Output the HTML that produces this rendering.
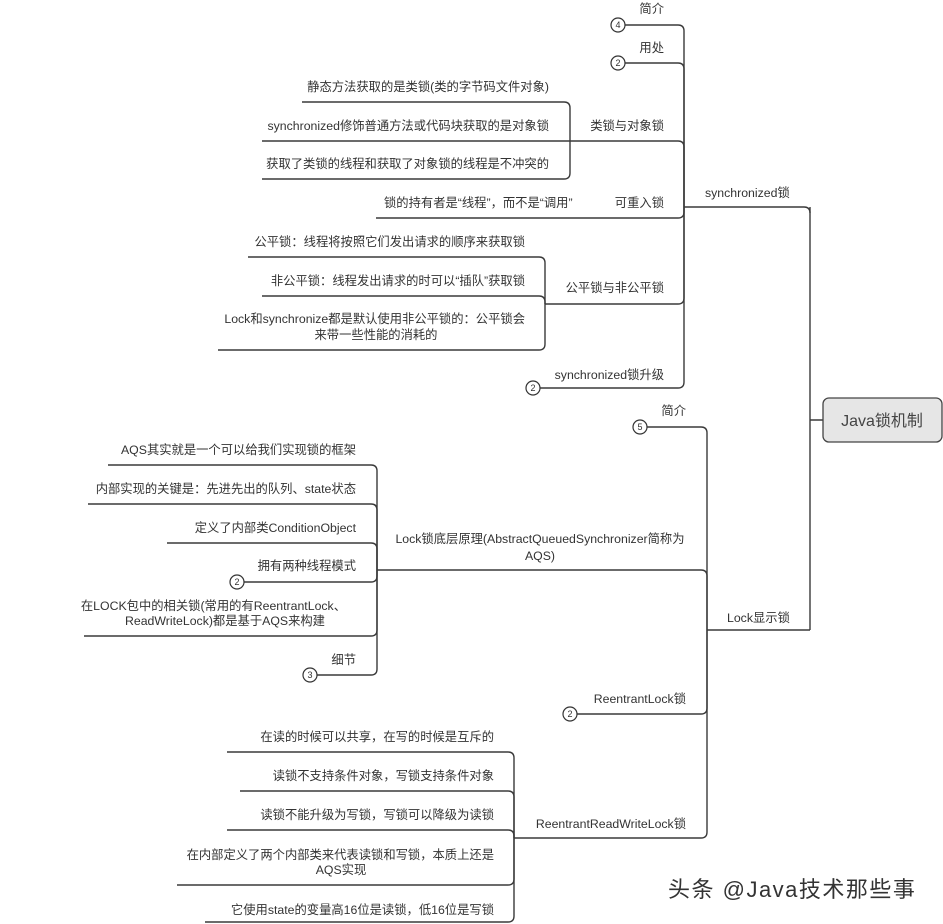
<!DOCTYPE html>
<html><head><meta charset="utf-8"><style>
html,body{margin:0;padding:0;background:#fff;}
svg{display:block;}
text{font-family:"Liberation Sans","Noto Sans CJK SC",sans-serif;font-size:12.3px;fill:#333;}
.l{fill:none;stroke:#3a3a3a;stroke-width:1.4;}
.c{fill:#fff;stroke:#333;stroke-width:1.2;}
.n{font-size:9px;text-anchor:middle;}
</style></head><body>
<svg width="943" height="924" viewBox="0 0 943 924" xmlns="http://www.w3.org/2000/svg">
<path class="l" d="M823,420 H810 M810,207 V630"/>
<rect x="823" y="398" width="119" height="44" rx="6" fill="#e6e6e6" stroke="#444" stroke-width="1.3"/>
<text x="882" y="426" style="font-size:16px;fill:#444" text-anchor="middle">Java锁机制</text>

<path class="l" d="M684,207 H804 Q810,207 810,213"/>
<text x="705" y="197">synchronized锁</text>
<path class="l" d="M625,25 H678 Q684,25 684,31 V207"/>
<path class="l" d="M625,63 H678 Q684,63 684,69 V207"/>
<path class="l" d="M570,141 H678 Q684,141 684,147 V207"/>
<path class="l" d="M376,218 H678 Q684,218 684,212 V207"/>
<path class="l" d="M545,304 H678 Q684,304 684,298 V207"/>
<path class="l" d="M540,388 H678 Q684,388 684,382 V207"/>
<circle class="c" cx="618" cy="25" r="7"/><text class="n" x="618" y="28">4</text>
<circle class="c" cx="618" cy="63" r="7"/><text class="n" x="618" y="66">2</text>
<circle class="c" cx="533" cy="388" r="7"/><text class="n" x="533" y="391">2</text>
<text x="664" y="13" text-anchor="end">简介</text>
<text x="664" y="52" text-anchor="end">用处</text>
<text x="664" y="130" text-anchor="end">类锁与对象锁</text>
<text x="664" y="207" text-anchor="end">可重入锁</text>
<text x="384" y="207">锁的持有者是“线程”，而不是“调用”</text>
<text x="664" y="292" text-anchor="end">公平锁与非公平锁</text>
<text x="664" y="379" text-anchor="end">synchronized锁升级</text>
<path class="l" d="M302,102 H564 Q570,102 570,108 V141"/>
<path class="l" d="M262,141 H570"/>
<path class="l" d="M262,179 H564 Q570,179 570,173 V141"/>
<text x="549" y="91" text-anchor="end">静态方法获取的是类锁(类的字节码文件对象)</text>
<text x="549" y="130" text-anchor="end">synchronized修饰普通方法或代码块获取的是对象锁</text>
<text x="549" y="168" text-anchor="end">获取了类锁的线程和获取了对象锁的线程是不冲突的</text>
<path class="l" d="M248,257 H539 Q545,257 545,263 V304"/>
<path class="l" d="M262,296 H539 Q545,296 545,302 V304"/>
<path class="l" d="M218,350 H539 Q545,350 545,344 V304"/>
<text x="525" y="246" text-anchor="end">公平锁：线程将按照它们发出请求的顺序来获取锁</text>
<text x="525" y="285" text-anchor="end">非公平锁：线程发出请求的时可以“插队”获取锁</text>
<text x="525" y="323" text-anchor="end">Lock和synchronize都是默认使用非公平锁的：公平锁会</text>
<text x="376" y="339" text-anchor="middle">来带一些性能的消耗的</text>

<path class="l" d="M707,630 H810"/>
<text x="727" y="622">Lock显示锁</text>
<path class="l" d="M647,427 H701 Q707,427 707,433 V630"/>
<path class="l" d="M377,570 H701 Q707,570 707,576 V630"/>
<path class="l" d="M577,714 H701 Q707,714 707,708 V630"/>
<path class="l" d="M514,838 H701 Q707,838 707,832 V630"/>
<circle class="c" cx="640" cy="427" r="7"/><text class="n" x="640" y="430">5</text>
<circle class="c" cx="570" cy="714" r="7"/><text class="n" x="570" y="717">2</text>
<text x="686" y="415" text-anchor="end">简介</text>
<text x="540" y="543" text-anchor="middle">Lock锁底层原理(AbstractQueuedSynchronizer简称为</text>
<text x="540" y="560" text-anchor="middle">AQS)</text>
<text x="686" y="703" text-anchor="end">ReentrantLock锁</text>
<text x="686" y="828" text-anchor="end">ReentrantReadWriteLock锁</text>
<path class="l" d="M108,465 H371 Q377,465 377,471 V570"/>
<path class="l" d="M88,504 H371 Q377,504 377,510 V570"/>
<path class="l" d="M167,543 H371 Q377,543 377,549 V570"/>
<path class="l" d="M244,582 H371 Q377,582 377,576 V570"/>
<path class="l" d="M84,636 H371 Q377,636 377,630 V570"/>
<path class="l" d="M317,675 H371 Q377,675 377,669 V570"/>
<circle class="c" cx="237" cy="582" r="7"/><text class="n" x="237" y="585">2</text>
<circle class="c" cx="310" cy="675" r="7"/><text class="n" x="310" y="678">3</text>
<text x="356" y="454" text-anchor="end">AQS其实就是一个可以给我们实现锁的框架</text>
<text x="356" y="493" text-anchor="end">内部实现的关键是：先进先出的队列、state状态</text>
<text x="356" y="532" text-anchor="end">定义了内部类ConditionObject</text>
<text x="356" y="570" text-anchor="end">拥有两种线程模式</text>
<text x="346" y="610" text-anchor="end">在LOCK包中的相关锁(常用的有ReentrantLock、</text>
<text x="225" y="625" text-anchor="middle">ReadWriteLock)都是基于AQS来构建</text>
<text x="356" y="664" text-anchor="end">细节</text>
<path class="l" d="M227,752 H508 Q514,752 514,758 V838"/>
<path class="l" d="M240,791 H508 Q514,791 514,797 V838"/>
<path class="l" d="M227,830 H508 Q514,830 514,836 V838"/>
<path class="l" d="M177,885 H508 Q514,885 514,879 V838"/>
<path class="l" d="M205,922 H508 Q514,922 514,916 V838"/>
<text x="494" y="741" text-anchor="end">在读的时候可以共享，在写的时候是互斥的</text>
<text x="494" y="780" text-anchor="end">读锁不支持条件对象，写锁支持条件对象</text>
<text x="494" y="819" text-anchor="end">读锁不能升级为写锁，写锁可以降级为读锁</text>
<text x="494" y="859" text-anchor="end">在内部定义了两个内部类来代表读锁和写锁，本质上还是</text>
<text x="341" y="874" text-anchor="middle">AQS实现</text>
<text x="494" y="914" text-anchor="end">它使用state的变量高16位是读锁，低16位是写锁</text>

<text x="668" y="897" style="font-size:22px;letter-spacing:1.5px;fill:#333">头条 @Java技术那些事</text>
</svg>
</body></html>
